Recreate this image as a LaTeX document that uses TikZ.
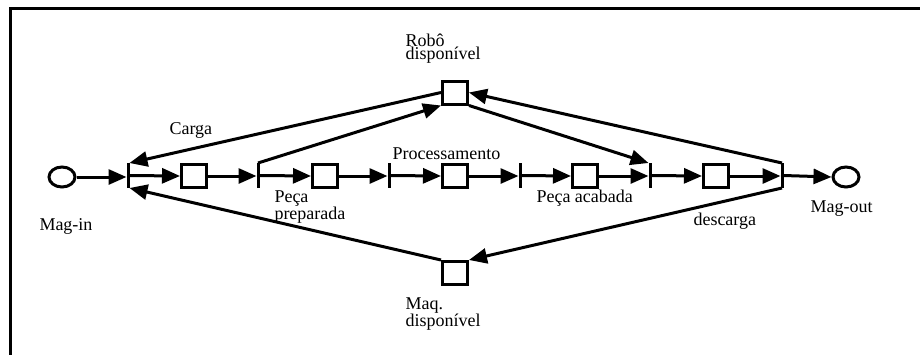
\documentclass[tikz,border=0pt]{standalone}
\usepackage{fontspec}
\setmainfont{Liberation Serif}
\usetikzlibrary{arrows.meta,shapes.geometric}
\begin{document}
\begin{tikzpicture}[x=1pt,y=-1pt,
  line width=3pt,
  arr/.style={-{Triangle[length=18pt,width=15pt]}},
  place/.style={draw,rectangle,minimum width=25pt,minimum height=23pt,inner sep=0pt,fill=white},
  trans/.style={rectangle,fill=black,minimum width=3pt,minimum height=25pt,inner sep=0pt,outer sep=0pt},
  endpl/.style={draw,ellipse,minimum width=26pt,minimum height=20pt,inner sep=0pt},
  lbl/.style={anchor=base west,inner sep=0pt,font=\fontsize{18}{12}\selectfont},
  lbl2/.style={anchor=north west,inner sep=0pt,align=left,font=\fontsize{18}{12}\selectfont}]
\useasboundingbox (0,0) rectangle (920,354);
\draw[line cap=rect] (10,354) -- (10,8) -- (920,8);
% places
\node[endpl] (magin) at (62,177) {};
\node[endpl] (magout) at (846,177) {};
\node[place] (p1) at (194,176) {};
\node[place] (p2) at (325,176) {};
\node[place] (p3) at (455,176) {};
\node[place] (p4) at (585,176) {};
\node[place] (p5) at (716,176) {};
\node[place] (rob) at (455,92.5) {};
\node[place] (maq) at (455,273) {};
% transitions
\node[trans] (t1) at (128,175.5) {};
\node[trans] (t2) at (258,175.5) {};
\node[trans] (t3) at (389,175.5) {};
\node[trans] (t4) at (520,175.5) {};
\node[trans] (t5) at (650,175.5) {};
\node[trans] (t6) at (782,175.5) {};
% main row
\draw[arr] (magin.east) -- (magin.east -| t1.west);
\draw[arr] (t1.east) -- (p1.west);
\draw[arr] (p1.east) -- (p1.east -| t2.west);
\draw[arr] (t2.east) -- (p2.west);
\draw[arr] (p2.east) -- (p2.east -| t3.west);
\draw[arr] (t3.east) -- (p3.west);
\draw[arr] (p3.east) -- (p3.east -| t4.west);
\draw[arr] (t4.east) -- (p4.west);
\draw[arr] (p4.east) -- (p4.east -| t5.west);
\draw[arr] (t5.east) -- (p5.west);
\draw[arr] (p5.east) -- (p5.east -| t6.west);
\draw[arr] (t6.east) -- (magout.west);
% robot and machine arcs
\draw[arr] (rob.west) -- (t1.north east);
\draw[arr] (t2.north) -- (rob.south west);
\draw[arr] (rob.south east) -- (t5.north west);
\draw[arr] (t6.north) -- (rob.east);
\draw[arr] (t6.south) -- (maq.north east);
\draw[arr] (maq.north west) -- (t1.south east);
% labels
\node[lbl2] (l1) at (404,32) {Robô\\disponível};
\node[lbl] (l3) at (168,134) {Carga};
\node[lbl] (l4) at (391,159) {Processamento};
\node[lbl2] (l5) at (273,189) {Peça\\preparada};
\node[lbl] (l7) at (38,230) {Mag-in};
\node[lbl] (l8) at (535,202) {Peça acabada};
\node[lbl] (l9) at (692,225) {descarga};
\node[lbl] (l10) at (809,212) {Mag-out};
\node[lbl2] (l11) at (404,296) {Maq.\\disponível};
\end{tikzpicture}
\end{document}
